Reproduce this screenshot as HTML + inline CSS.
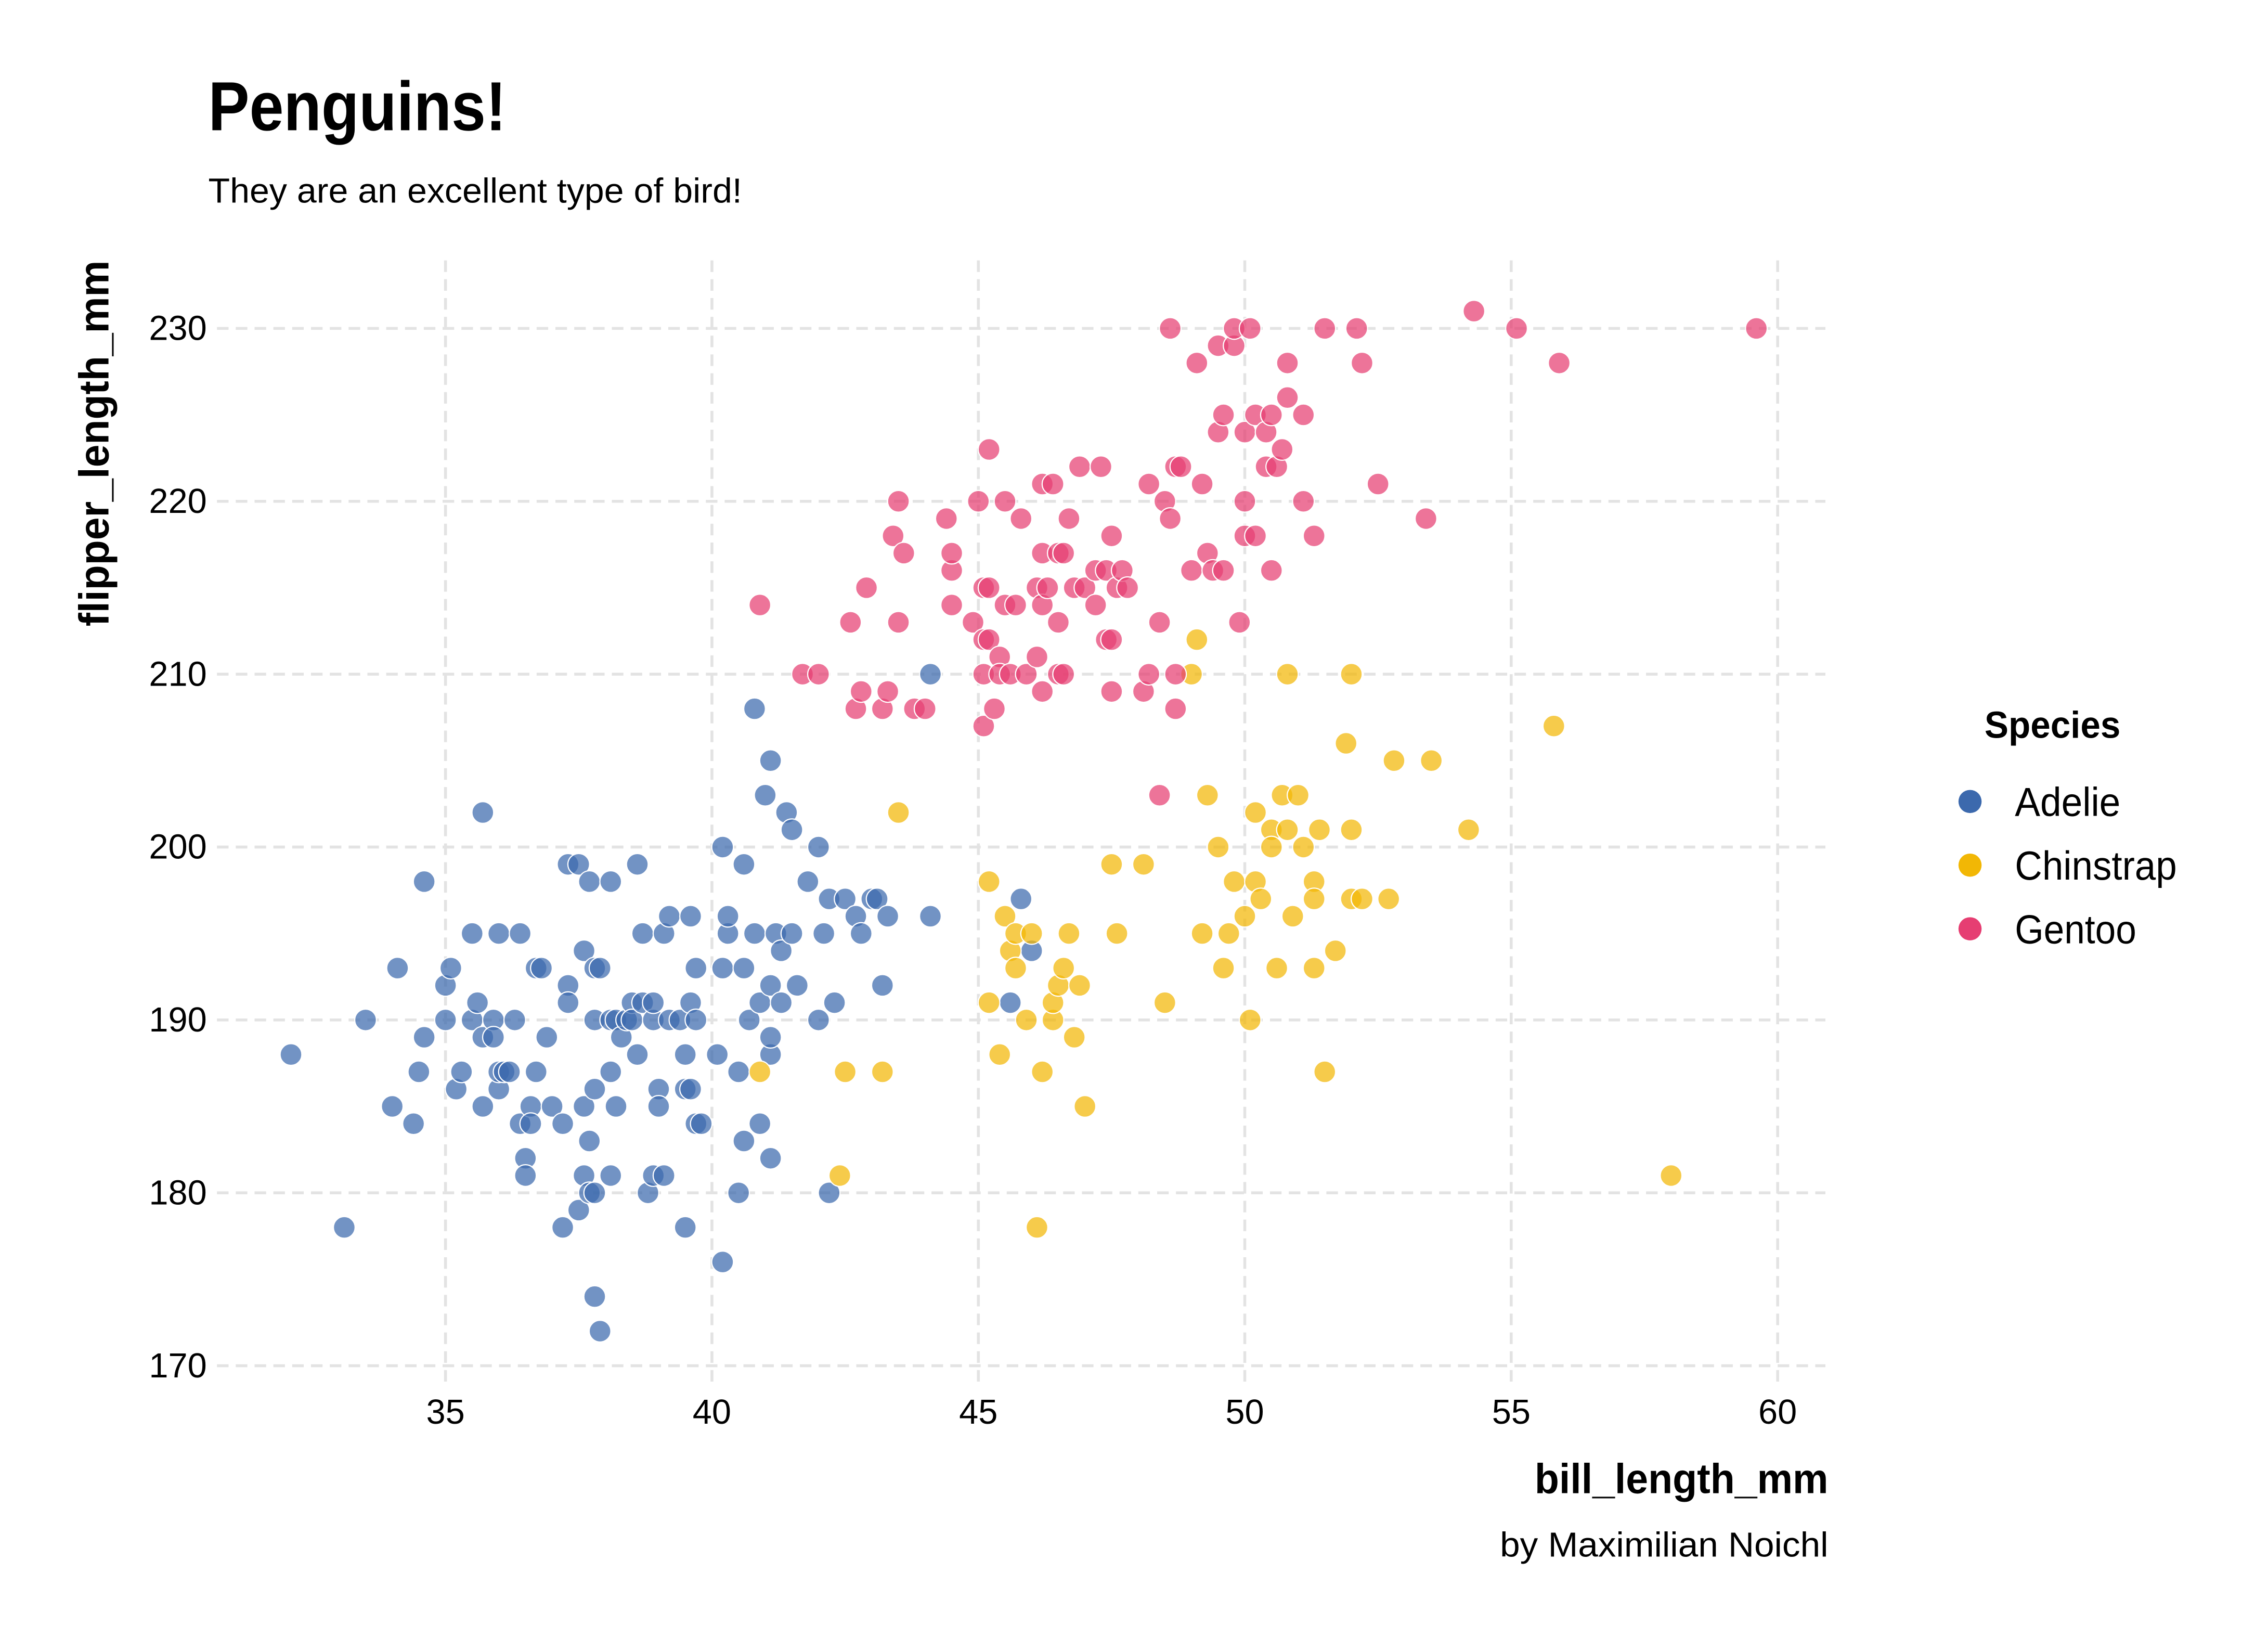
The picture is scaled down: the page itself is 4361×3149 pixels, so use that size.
<!DOCTYPE html>
<html><head><meta charset="utf-8"><style>
html,body{margin:0;padding:0;background:#fff;width:4361px;height:3149px;overflow:hidden}
svg{display:block}
text{font-family:"Liberation Sans Narrow","Liberation Sans",sans-serif}
</style></head><body>
<svg id="chart" width="4361" height="3149" viewBox="0 0 1568 1132.2" preserveAspectRatio="none" xmlns="http://www.w3.org/2000/svg">
<text x="144" y="90" font-size="48" font-weight="bold" fill="#000" textLength="206" lengthAdjust="spacingAndGlyphs">Penguins!</text>
<text x="144" y="140" font-size="24" fill="#000" textLength="369" lengthAdjust="spacingAndGlyphs">They are an excellent type of bird!</text>
<g id="grid"></g>
<g id="ticks"></g>
<g id="points"></g>
<text transform="translate(75,180) rotate(-90)" text-anchor="end" font-size="29" font-weight="bold" textLength="253" lengthAdjust="spacingAndGlyphs">flipper_length_mm</text>
<text x="1264" y="1032" text-anchor="end" font-size="29" font-weight="bold" textLength="203" lengthAdjust="spacingAndGlyphs">bill_length_mm</text>
<text x="1264" y="1076" text-anchor="end" font-size="24" textLength="227" lengthAdjust="spacingAndGlyphs">by Maximilian Noichl</text>
<g id="legend">
<text x="1372" y="510" font-size="26" font-weight="bold" textLength="94" lengthAdjust="spacingAndGlyphs">Species</text>
</g>
</svg>
<script>
const species = ["Adelie","Chinstrap","Gentoo"];
const colors = ["#3c69ad","#f2b705","#e63e72"];
const legendWidths = [73,112,84];
const xTicks = [35,40,45,50,55,60];
const yTicks = [170,180,190,200,210,220,230];
const adelieX = [32.1,33.1,33.5,34.0,34.1,34.4,34.5,34.6,34.6,35.0,35.0,35.1,35.2,35.3,35.5,35.5,35.6,35.7,35.7,35.7,35.9,35.9,36.0,36.0,36.0,36.1,36.2,36.3,36.4,36.4,36.5,36.5,36.6,36.6,36.7,36.7,36.8,36.9,37.0,37.2,37.2,37.3,37.3,37.3,37.5,37.5,37.6,37.6,37.6,37.7,37.7,37.7,37.8,37.8,37.8,37.8,37.8,37.9,37.9,38.1,38.1,38.1,38.1,38.2,38.2,38.3,38.4,38.5,38.5,38.6,38.6,38.7,38.7,38.8,38.9,38.9,38.9,39.0,39.0,39.1,39.1,39.2,39.2,39.4,39.5,39.5,39.5,39.6,39.6,39.6,39.7,39.7,39.7,39.8,40.1,40.2,40.2,40.2,40.3,40.3,40.5,40.5,40.6,40.6,40.6,40.7,40.8,40.8,40.9,40.9,41.0,41.1,41.1,41.1,41.1,41.1,41.2,41.3,41.3,41.4,41.5,41.5,41.6,41.8,42.0,42.0,42.1,42.2,42.2,42.3,42.5,42.7,42.8,43.0,43.1,43.2,43.3,44.1,44.1,45.6,45.8,46.0];
const adelieY = [188,178,190,185,193,184,187,198,189,190,192,193,186,187,195,190,191,189,202,185,190,189,195,186,187,187,187,190,184,195,182,181,185,184,187,193,193,189,185,184,178,192,191,199,179,199,185,194,181,183,198,180,190,186,180,174,193,172,193,187,198,181,190,185,190,189,190,191,190,199,188,195,191,180,181,190,191,186,185,195,181,190,196,190,188,186,178,191,196,186,193,190,184,184,188,193,176,200,195,196,180,187,193,183,199,190,208,195,184,191,203,205,188,189,182,192,195,194,191,202,201,195,192,198,190,200,195,180,197,191,197,196,195,197,197,192,196,196,210,191,197,194];
const chinX = [40.9,42.4,42.5,43.2,43.5,45.2,45.2,45.4,45.5,45.6,45.7,45.7,45.9,46.0,46.1,46.2,46.4,46.4,46.5,46.6,46.7,46.8,46.9,47.0,47.5,47.6,48.1,48.5,49.0,49.1,49.2,49.3,49.5,49.6,49.7,49.8,50.0,50.1,50.2,50.2,50.3,50.5,50.5,50.6,50.7,50.8,50.8,50.9,51.0,51.1,51.3,51.3,51.3,51.4,51.5,51.7,51.9,52.0,52.0,52.0,52.2,52.7,52.8,53.5,54.2,55.8,58.0];
const chinY = [187,181,187,187,202,198,191,188,196,194,193,195,190,195,178,187,190,191,192,193,195,189,192,185,199,195,199,191,210,212,195,203,200,193,195,198,196,190,202,198,197,201,200,193,203,210,201,196,203,200,198,197,193,201,187,194,206,197,201,210,197,197,205,205,201,207,181];
const gentooX = [40.9,41.7,42.0,42.6,42.7,42.8,42.9,43.2,43.3,43.4,43.5,43.5,43.6,43.8,44.0,44.4,44.5,44.5,44.5,44.9,45.0,45.1,45.1,45.1,45.1,45.2,45.2,45.2,45.3,45.4,45.4,45.5,45.5,45.6,45.7,45.8,45.9,46.1,46.1,46.2,46.2,46.2,46.2,46.3,46.4,46.5,46.5,46.5,46.6,46.6,46.7,46.8,46.9,47.0,47.2,47.2,47.3,47.4,47.4,47.5,47.5,47.5,47.6,47.7,47.8,48.1,48.2,48.2,48.4,48.4,48.5,48.6,48.6,48.7,48.7,48.7,48.8,49.0,49.1,49.2,49.3,49.4,49.5,49.5,49.6,49.6,49.8,49.8,49.9,50.0,50.0,50.0,50.1,50.2,50.2,50.4,50.4,50.5,50.5,50.6,50.7,50.8,50.8,51.1,51.1,51.3,51.5,52.1,52.2,52.5,53.4,54.3,55.1,55.9,59.6];
const gentooY = [214,210,210,213,208,209,215,208,209,218,220,213,217,208,208,219,216,217,214,213,220,212,210,207,215,223,215,212,208,211,210,220,214,210,214,219,210,211,215,221,217,214,209,215,221,217,213,210,210,217,219,215,222,215,214,216,222,212,216,209,218,212,215,216,215,209,221,210,213,203,220,219,230,210,208,222,222,216,228,221,217,216,229,224,225,216,229,230,213,224,220,218,230,225,218,224,222,225,216,222,223,226,228,225,220,218,230,230,228,221,219,231,230,228,230];
const seriesX = [adelieX, chinX, gentooX];
const seriesY = [adelieY, chinY, gentooY];

const NS = "http://www.w3.org/2000/svg";
function sx(v){ return 308 + (v-35)*36.84; }
function sy(v){ return 227 + (230-v)*11.95; }
const grid = document.getElementById('grid');
const ticks = document.getElementById('ticks');
xTicks.forEach(t => {
  const l = document.createElementNS(NS,'line');
  
  
  l.setAttribute('x1',sx(t)); l.setAttribute('x2',sx(t)); l.setAttribute('y1',180); l.setAttribute('y2',955);
  l.setAttribute('stroke','#e3e3e3'); l.setAttribute('stroke-width','2'); l.setAttribute('stroke-dasharray','8,5');
  grid.appendChild(l);
  const tx = document.createElementNS(NS,'text');
  
  
  tx.setAttribute('x',sx(t)); tx.setAttribute('y',984); tx.setAttribute('text-anchor','middle'); tx.setAttribute('font-size','24');
  tx.textContent = t; ticks.appendChild(tx);
});
yTicks.forEach(t => {
  const l = document.createElementNS(NS,'line');
  
  
  l.setAttribute('x1',150); l.setAttribute('x2',1262); l.setAttribute('y1',sy(t)); l.setAttribute('y2',sy(t));
  l.setAttribute('stroke','#e3e3e3'); l.setAttribute('stroke-width','2'); l.setAttribute('stroke-dasharray','8,5');
  grid.appendChild(l);
  const tx = document.createElementNS(NS,'text');
  
  
  tx.setAttribute('x',143); tx.setAttribute('y',sy(t)+8); tx.setAttribute('text-anchor','end'); tx.setAttribute('font-size','24');
  tx.textContent = t; ticks.appendChild(tx);
});
const pts = document.getElementById('points');
species.forEach((s,i) => {
  const g = document.createElementNS(NS,'g');
  
  
  seriesX[i].forEach((x,j) => {
    const c = document.createElementNS(NS,'circle');
    
    
    c.setAttribute('cx',sx(x)); c.setAttribute('cy',sy(seriesY[i][j])); c.setAttribute('r',7.5);
    c.setAttribute('fill',colors[i]); c.setAttribute('fill-opacity','0.72');
    c.setAttribute('stroke','#fff'); c.setAttribute('stroke-width','0.8');
    g.appendChild(c);
  });
  pts.appendChild(g);
});
const leg = document.getElementById('legend');
species.forEach((s,i) => {
  const y = 554 + i*44;
  const c = document.createElementNS(NS,'circle');
  
  
  c.setAttribute('cx',1362); c.setAttribute('cy',y); c.setAttribute('r',8); c.setAttribute('fill',colors[i]);
  leg.appendChild(c);
  const t = document.createElementNS(NS,'text');
  
  
  t.setAttribute('x',1393); t.setAttribute('y',y+10); t.setAttribute('font-size','28');
  t.setAttribute('textLength',legendWidths[i]); t.setAttribute('lengthAdjust','spacingAndGlyphs');
  t.textContent = s; leg.appendChild(t);
});
</script>
</body></html>
